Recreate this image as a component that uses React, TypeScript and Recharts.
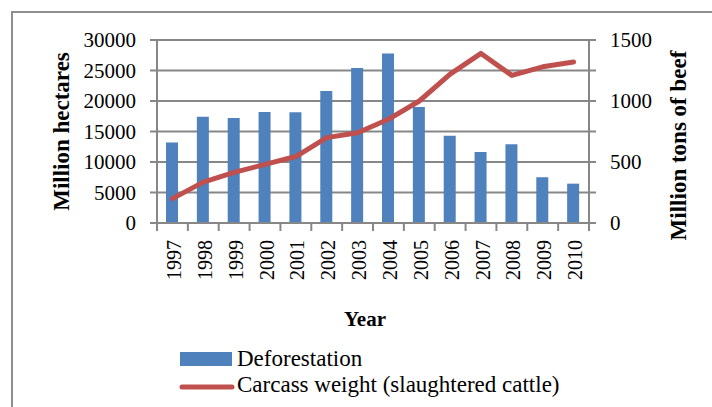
import React from 'react';
import { ComposedChart, Bar, Line, XAxis, YAxis, CartesianGrid, Legend, Label } from 'recharts';

const years = ['1997', '1998', '1999', '2000', '2001', '2002', '2003', '2004', '2005', '2006', '2007', '2008', '2009', '2010'];
const deforestation = [13200, 17400, 17200, 18200, 18150, 21650, 25400, 27800, 19000, 14300, 11650, 12900, 7500, 6450];
const carcassWeight = [200, 335, 415, 480, 545, 700, 740, 850, 1000, 1220, 1390, 1210, 1280, 1320];
const leftTicks = [0, 5000, 10000, 15000, 20000, 25000, 30000];
const rightTicks = [0, 250, 500, 750, 1000, 1250, 1500];
const rightLabelStep = 500;

const data = years.map((y, i) => ({ year: y, deforestation: deforestation[i], carcass: carcassWeight[i] }));

const FONT = '"Liberation Serif", "Times New Roman", serif';
const GRID = '#878787';
const BLUE = '#4F81BD';
const RED = '#C0504D';

const YearTick = (props: any) => {
  const { x, y, payload, index } = props;
  const half = payload && typeof payload.offset === 'number' && payload.offset > 0 ? payload.offset : 15.45;
  const last = index === years.length - 1;
  return (
    <g transform={`translate(${x},${y})`}>
      <line x1={-half} y1={0} x2={-half} y2={8} stroke={GRID} strokeWidth={2} />
      {last && <line x1={half} y1={0} x2={half} y2={8} stroke={GRID} strokeWidth={2} />}
      <text transform="rotate(-90)" x={-17} y={8.5} textAnchor="end" fontSize={20} fontFamily={FONT} fill="#000">
        {payload.value}
      </text>
    </g>
  );
};

const LegendContent = () => (
  <svg width={440} height={62}>
    <rect x={10} y={12} width={52} height={14} fill={BLUE} />
    <text x={67} y={26} fontSize={23} fontFamily={FONT} fill="#000">Deforestation</text>
    <line x1={12} y1={47} x2={62} y2={47} stroke={RED} strokeWidth={5} strokeLinecap="round" />
    <text x={67} y={52} fontSize={23} fontFamily={FONT} fill="#000">Carcass weight (slaughtered cattle)</text>
  </svg>
);

export default function App() {
  return (
    <div style={{ position: 'absolute', left: 0, top: 0, width: 712, height: 407, overflow: 'hidden', background: '#fff' }}>
      <div style={{ position: 'absolute', left: 11, top: 11, width: 760, height: 460, border: '2px solid #8f8f8f' }} />
      <div style={{ position: 'absolute', left: 0, top: 0 }}>
        <ComposedChart width={712} height={407} data={data} margin={{ top: 40, right: 0, bottom: 88, left: 0 }} barSize={12}>
          <CartesianGrid horizontal vertical={false} stroke={GRID} strokeWidth={2} yAxisId="left" />
          <XAxis
            dataKey="year"
            height={96}
            interval={0}
            tickSize={0}
            tickMargin={0}
            tickLine={false}
            axisLine={{ stroke: GRID, strokeWidth: 2 }}
            tick={<YearTick />}
          >
            <Label
              content={(p: any) => {
                const vb = p.viewBox;
                const cx = vb.x + vb.width / 2 - 8;
                return (
                  <text x={cx} y={326} textAnchor="middle" fontSize={21} fontWeight="bold" fontFamily={FONT} fill="#000">
                    Year
                  </text>
                );
              }}
            />
          </XAxis>
          <YAxis
            yAxisId="left"
            orientation="left"
            width={157}
            domain={[0, 30000]}
            ticks={leftTicks}
            interval={0}
            tickSize={7}
            tickMargin={14}
            axisLine={{ stroke: GRID, strokeWidth: 2 }}
            tickLine={{ stroke: GRID, strokeWidth: 2 }}
            tick={{ fontSize: 21, fontFamily: FONT, fill: '#000' }}
          >
            <Label
              content={(p: any) => {
                const vb = p.viewBox;
                const cx = vb.x + vb.width / 2 - 17.5;
                const cy = vb.y + vb.height / 2;
                return (
                  <text x={cx} y={cy} transform={`rotate(-90, ${cx}, ${cy})`} textAnchor="middle" dominantBaseline="central" fontSize={23} fontWeight="bold" fontFamily={FONT} fill="#000">
                    Million hectares
                  </text>
                );
              }}
            />
          </YAxis>
          <YAxis
            yAxisId="right"
            orientation="right"
            width={123}
            domain={[0, 1500]}
            ticks={rightTicks}
            interval={0}
            tickSize={7}
            tickMargin={14}
            tickFormatter={(v: number) => (v % rightLabelStep === 0 ? String(v) : '')}
            axisLine={{ stroke: GRID, strokeWidth: 2 }}
            tickLine={{ stroke: GRID, strokeWidth: 2 }}
            tick={{ fontSize: 21, fontFamily: FONT, fill: '#000' }}
          >
            <Label
              content={(p: any) => {
                const vb = p.viewBox;
                const cx = vb.x + vb.width / 2 + 27.5;
                const cy = vb.y + vb.height / 2 + 14;
                return (
                  <text x={cx} y={cy} transform={`rotate(-90, ${cx}, ${cy})`} textAnchor="middle" dominantBaseline="central" fontSize={23} fontWeight="bold" fontFamily={FONT} fill="#000">
                    Million tons of beef
                  </text>
                );
              }}
            />
          </YAxis>
          <Bar yAxisId="left" dataKey="deforestation" name="Deforestation" fill={BLUE} isAnimationActive={false} />
          <Line
            yAxisId="right"
            dataKey="carcass"
            name="Carcass weight (slaughtered cattle)"
            type="linear"
            stroke={RED}
            strokeWidth={5}
            strokeLinejoin="round"
            strokeLinecap="round"
            dot={false}
            activeDot={false}
            isAnimationActive={false}
          />
          <Legend
            layout="vertical"
            align="center"
            verticalAlign="middle"
            content={<LegendContent />}
            wrapperStyle={{ position: 'absolute', left: 170, top: 340, width: 440, height: 62 }}
          />
        </ComposedChart>
      </div>
    </div>
  );
}
